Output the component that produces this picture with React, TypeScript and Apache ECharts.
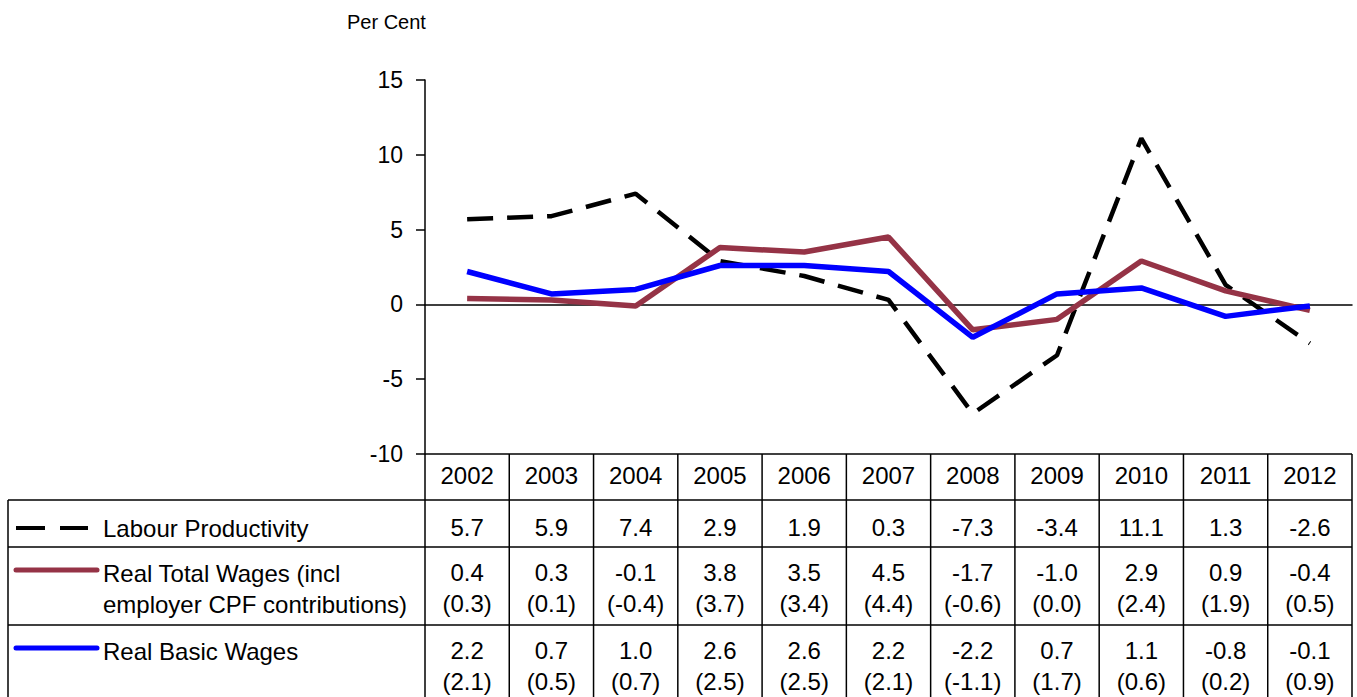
import React, { useEffect, useRef } from "react";
import * as echarts from "echarts";

const years = ["2002", "2003", "2004", "2005", "2006", "2007", "2008", "2009", "2010", "2011", "2012"];
const labourProductivity = [5.7, 5.9, 7.4, 2.9, 1.9, 0.3, -7.3, -3.4, 11.1, 1.3, -2.6];
const realTotalWages = [0.4, 0.3, -0.1, 3.8, 3.5, 4.5, -1.7, -1.0, 2.9, 0.9, -0.4];
const realTotalWagesParen = [0.3, 0.1, -0.4, 3.7, 3.4, 4.4, -0.6, 0.0, 2.4, 1.9, 0.5];
const realBasicWages = [2.2, 0.7, 1.0, 2.6, 2.6, 2.2, -2.2, 0.7, 1.1, -0.8, -0.1];
const realBasicWagesParen = [2.1, 0.5, 0.7, 2.5, 2.5, 2.1, -1.1, 1.7, 0.6, 0.2, 0.9];
const seriesNames = ["Labour Productivity", "Real Total Wages (incl", "Real Basic Wages"];

const FONT = "'Liberation Sans', Arial, sans-serif";
const RED = "#953346";
const BLUE = "#0000FF";

export default function App() {
  const ref = useRef<HTMLDivElement>(null);
  useEffect(() => {
    if (!ref.current) return;
    const chart = echarts.init(ref.current, undefined, { renderer: "svg" });
    const gridTop = 80;
    const gridBottom = 243;
    chart.setOption({
      animation: false,
      backgroundColor: "#fff",
      grid: { left: 425, right: 5, top: gridTop, bottom: gridBottom },
      xAxis: {
        type: "category",
        data: years,
        boundaryGap: true,
        axisLine: { onZero: true, lineStyle: { color: "#000", width: 1.5 } },
        axisTick: { show: false },
        axisLabel: { show: false },
      },
      yAxis: {
        type: "value",
        min: -10,
        max: 15,
        interval: 5,
        axisLine: { show: true, lineStyle: { color: "#000", width: 1.5 } },
        axisTick: { show: true, inside: false, length: 9, lineStyle: { color: "#000", width: 1.5 } },
        axisLabel: { color: "#000", fontFamily: FONT, fontSize: 23, margin: 22 },
        splitLine: { show: false },
      },
      series: [
        {
          name: seriesNames[0],
          type: "line",
          data: labourProductivity,
          symbol: "none",
          lineStyle: { color: "#000", width: 4.5, type: [26, 14] },
          z: 3,
        },
        {
          name: seriesNames[1],
          type: "line",
          data: realTotalWages,
          symbol: "none",
          lineStyle: { color: RED, width: 5.5 },
          z: 4,
        },
        {
          name: seriesNames[2],
          type: "line",
          data: realBasicWages,
          symbol: "none",
          lineStyle: { color: BLUE, width: 5.5 },
          z: 5,
        },
      ],
    });

    const x0 = chart.convertToPixel({ xAxisIndex: 0 }, 0) as number;
    const x1 = chart.convertToPixel({ xAxisIndex: 0 }, 1) as number;
    const band = x1 - x0;
    const tableLeft = x0 - band / 2;
    const tableRight = tableLeft + band * years.length;
    const yTop = chart.convertToPixel({ yAxisIndex: 0 }, -10) as number;
    const rowY = [yTop, 500, 547, 625, 697];
    const outerLeft = 8;
    const lineStyle = { stroke: "#000", lineWidth: 1.5 };
    const txt = (x: number, y: number, text: string, align = "center") => ({
      type: "text",
      x,
      y,
      style: { text, fill: "#000", font: `24px ${FONT}`, textAlign: align, textVerticalAlign: "middle" },
    });
    const g: any[] = [];
    g.push({ type: "line", shape: { x1: tableLeft, y1: rowY[0], x2: tableRight, y2: rowY[0] }, style: lineStyle });
    for (let r = 1; r <= 3; r++) {
      g.push({ type: "line", shape: { x1: outerLeft, y1: rowY[r], x2: tableRight, y2: rowY[r] }, style: lineStyle });
    }
    g.push({ type: "line", shape: { x1: outerLeft, y1: rowY[1], x2: outerLeft, y2: 697 }, style: lineStyle });
    for (let i = 0; i <= years.length; i++) {
      const x = tableLeft + band * i;
      g.push({ type: "line", shape: { x1: x, y1: rowY[0], x2: x, y2: 697 }, style: lineStyle });
    }
    const fmt = (v: number) => v.toFixed(1);
    years.forEach((yr, i) => {
      const cx = chart.convertToPixel({ xAxisIndex: 0 }, i) as number;
      g.push(txt(cx, 475, yr));
      g.push(txt(cx, 527, fmt(labourProductivity[i])));
      g.push(txt(cx, 572, fmt(realTotalWages[i])));
      g.push(txt(cx, 603, "(" + fmt(realTotalWagesParen[i]) + ")"));
      g.push(txt(cx, 650, fmt(realBasicWages[i])));
      g.push(txt(cx, 681, "(" + fmt(realBasicWagesParen[i]) + ")"));
    });
    g.push({ type: "line", shape: { x1: 16, y1: 528, x2: 88, y2: 528 }, style: { stroke: "#000", lineWidth: 4, lineDash: [29, 15] } });
    g.push({ type: "line", shape: { x1: 16, y1: 570, x2: 97, y2: 570 }, style: { stroke: RED, lineWidth: 5, lineCap: "round" } });
    g.push({ type: "line", shape: { x1: 16, y1: 648, x2: 97, y2: 648 }, style: { stroke: BLUE, lineWidth: 5, lineCap: "round" } });
    g.push(txt(103, 528, seriesNames[0], "left"));
    g.push(txt(103, 573, seriesNames[1], "left"));
    g.push(txt(103, 604, "employer CPF contributions)", "left"));
    g.push(txt(103, 651, seriesNames[2], "left"));
    g.push({
      type: "text",
      x: 347,
      y: 22,
      style: { text: "Per Cent", fill: "#000", font: `20px ${FONT}`, textAlign: "left", textVerticalAlign: "middle" },
    });
    chart.setOption({ graphic: g });
    return () => chart.dispose();
  }, []);
  return (
    <div
      ref={ref}
      style={{ position: "fixed", left: 0, top: 0, width: 1357, height: 697, background: "#fff" }}
    />
  );
}
